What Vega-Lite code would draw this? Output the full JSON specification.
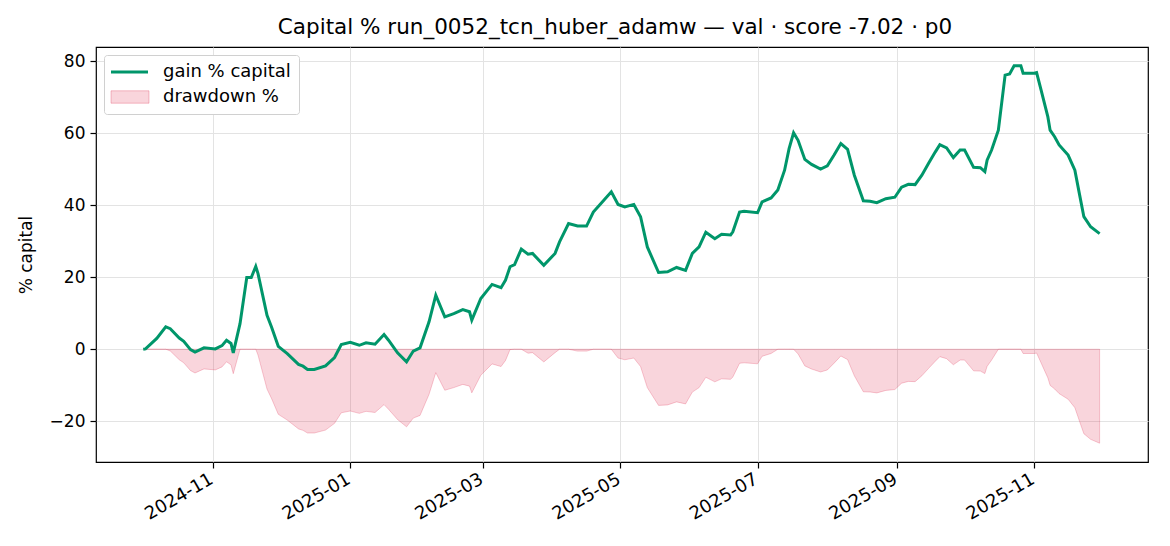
{
  "$schema": "https://vega.github.io/schema/vega-lite/v6.json",
  "width": 1052,
  "height": 415,
  "autosize": {"type": "none"},
  "padding": {"left": 96, "top": 47, "right": 22, "bottom": 84},
  "config": {
    "font": "DejaVu Sans",
    "view": {"stroke": "black", "strokeWidth": 1.2},
    "axis": {
      "domain": false,
      "gridColor": "#e3e3e3",
      "gridWidth": 1,
      "tickColor": "black",
      "tickSize": 6,
      "tickWidth": 1.2,
      "labelColor": "black",
      "labelFontSize": 17,
      "labelFont": "DejaVu Sans",
      "titleFont": "DejaVu Sans",
      "titleColor": "black",
      "titleFontWeight": "normal",
      "titleFontSize": 17,
      "labelPadding": 5
    },
    "legend": {
      "title": null,
      "orient": "top-left",
      "offset": 8,
      "padding": 8,
      "strokeColor": "#d0d0d0",
      "fillColor": "white",
      "cornerRadius": 3,
      "labelFontSize": 18,
      "labelFont": "DejaVu Sans",
      "labelColor": "black",
      "symbolSize": 400,
      "labelOffset": 33,
      "rowPadding": 7
    }
  },
  "title": {
    "text": "Capital % run_0052_tcn_huber_adamw — val · score -7.02 · p0",
    "fontSize": 21.5,
    "fontWeight": "normal",
    "font": "DejaVu Sans",
    "color": "black",
    "offset": 9,
    "dx": -7
  },
  "data": {
    "values": [
      {"date": "2024-10-01", "gain": 0, "dd": 0},
      {"date": "2024-10-02", "gain": 0.1, "dd": 0},
      {"date": "2024-10-07", "gain": 3, "dd": 0},
      {"date": "2024-10-11", "gain": 6.2, "dd": 0},
      {"date": "2024-10-13", "gain": 5.7, "dd": -0.47},
      {"date": "2024-10-17", "gain": 3.1, "dd": -2.92},
      {"date": "2024-10-19", "gain": 2.2, "dd": -3.77},
      {"date": "2024-10-22", "gain": -0.1, "dd": -5.93},
      {"date": "2024-10-24", "gain": -0.8, "dd": -6.59},
      {"date": "2024-10-28", "gain": 0.4, "dd": -5.46},
      {"date": "2024-11-02", "gain": 0.1, "dd": -5.74},
      {"date": "2024-11-05", "gain": 1, "dd": -4.9},
      {"date": "2024-11-07", "gain": 2.5, "dd": -3.48},
      {"date": "2024-11-09", "gain": 1.6, "dd": -4.33},
      {"date": "2024-11-10", "gain": -1, "dd": -6.78},
      {"date": "2024-11-13", "gain": 7.1, "dd": 0},
      {"date": "2024-11-16", "gain": 19.9, "dd": 0},
      {"date": "2024-11-18", "gain": 19.9, "dd": 0},
      {"date": "2024-11-20", "gain": 23, "dd": 0},
      {"date": "2024-11-21", "gain": 21, "dd": -1.63},
      {"date": "2024-11-25", "gain": 9.4, "dd": -11.06},
      {"date": "2024-11-27", "gain": 6.2, "dd": -13.66},
      {"date": "2024-11-30", "gain": 0.8, "dd": -18.05},
      {"date": "2024-12-04", "gain": -1.2, "dd": -19.67},
      {"date": "2024-12-09", "gain": -4.2, "dd": -22.11},
      {"date": "2024-12-11", "gain": -4.7, "dd": -22.52},
      {"date": "2024-12-13", "gain": -5.6, "dd": -23.25},
      {"date": "2024-12-16", "gain": -5.6, "dd": -23.25},
      {"date": "2024-12-21", "gain": -4.6, "dd": -22.44},
      {"date": "2024-12-25", "gain": -2.3, "dd": -20.57},
      {"date": "2024-12-28", "gain": 1.3, "dd": -17.64},
      {"date": "2025-01-01", "gain": 1.9, "dd": -17.15},
      {"date": "2025-01-05", "gain": 1.1, "dd": -17.8},
      {"date": "2025-01-08", "gain": 1.8, "dd": -17.24},
      {"date": "2025-01-12", "gain": 1.4, "dd": -17.56},
      {"date": "2025-01-16", "gain": 4.1, "dd": -15.37},
      {"date": "2025-01-18", "gain": 2.5, "dd": -16.67},
      {"date": "2025-01-22", "gain": -1, "dd": -19.51},
      {"date": "2025-01-26", "gain": -3.5, "dd": -21.54},
      {"date": "2025-01-29", "gain": -0.5, "dd": -19.11},
      {"date": "2025-02-01", "gain": 0.4, "dd": -18.37},
      {"date": "2025-02-05", "gain": 7.6, "dd": -12.52},
      {"date": "2025-02-08", "gain": 15, "dd": -6.5},
      {"date": "2025-02-12", "gain": 9, "dd": -11.38},
      {"date": "2025-02-16", "gain": 9.9, "dd": -10.65},
      {"date": "2025-02-20", "gain": 11, "dd": -9.76},
      {"date": "2025-02-23", "gain": 10.4, "dd": -10.24},
      {"date": "2025-02-24", "gain": 8.1, "dd": -12.11},
      {"date": "2025-02-28", "gain": 14.1, "dd": -7.24},
      {"date": "2025-03-05", "gain": 18, "dd": -4.07},
      {"date": "2025-03-09", "gain": 17.1, "dd": -4.8},
      {"date": "2025-03-11", "gain": 19.2, "dd": -3.09},
      {"date": "2025-03-13", "gain": 22.9, "dd": -0.08},
      {"date": "2025-03-15", "gain": 23.5, "dd": 0},
      {"date": "2025-03-18", "gain": 27.8, "dd": 0},
      {"date": "2025-03-21", "gain": 26.4, "dd": -1.1},
      {"date": "2025-03-23", "gain": 26.6, "dd": -0.94},
      {"date": "2025-03-28", "gain": 23.3, "dd": -3.52},
      {"date": "2025-04-02", "gain": 26.6, "dd": -0.94},
      {"date": "2025-04-04", "gain": 29.8, "dd": 0},
      {"date": "2025-04-08", "gain": 34.9, "dd": 0},
      {"date": "2025-04-12", "gain": 34.2, "dd": -0.52},
      {"date": "2025-04-16", "gain": 34.2, "dd": -0.52},
      {"date": "2025-04-19", "gain": 38.1, "dd": 0},
      {"date": "2025-04-22", "gain": 40.2, "dd": 0},
      {"date": "2025-04-27", "gain": 43.7, "dd": 0},
      {"date": "2025-04-30", "gain": 40.2, "dd": -2.44},
      {"date": "2025-05-03", "gain": 39.5, "dd": -2.92},
      {"date": "2025-05-07", "gain": 40.2, "dd": -2.44},
      {"date": "2025-05-10", "gain": 36.8, "dd": -4.8},
      {"date": "2025-05-13", "gain": 28.4, "dd": -10.65},
      {"date": "2025-05-18", "gain": 21.3, "dd": -15.59},
      {"date": "2025-05-22", "gain": 21.5, "dd": -15.45},
      {"date": "2025-05-26", "gain": 22.7, "dd": -14.61},
      {"date": "2025-05-30", "gain": 21.9, "dd": -15.17},
      {"date": "2025-06-02", "gain": 26.6, "dd": -11.9},
      {"date": "2025-06-05", "gain": 28.4, "dd": -10.65},
      {"date": "2025-06-08", "gain": 32.5, "dd": -7.79},
      {"date": "2025-06-12", "gain": 30.7, "dd": -9.05},
      {"date": "2025-06-15", "gain": 31.9, "dd": -8.21},
      {"date": "2025-06-19", "gain": 31.7, "dd": -8.35},
      {"date": "2025-06-20", "gain": 32.6, "dd": -7.72},
      {"date": "2025-06-23", "gain": 38.1, "dd": -3.9},
      {"date": "2025-06-25", "gain": 38.3, "dd": -3.76},
      {"date": "2025-07-01", "gain": 37.9, "dd": -4.04},
      {"date": "2025-07-03", "gain": 40.9, "dd": -1.95},
      {"date": "2025-07-07", "gain": 42, "dd": -1.18},
      {"date": "2025-07-10", "gain": 44.2, "dd": 0},
      {"date": "2025-07-13", "gain": 49.7, "dd": 0},
      {"date": "2025-07-15", "gain": 55.7, "dd": 0},
      {"date": "2025-07-17", "gain": 60.1, "dd": 0},
      {"date": "2025-07-19", "gain": 58, "dd": -1.31},
      {"date": "2025-07-22", "gain": 52.7, "dd": -4.62},
      {"date": "2025-07-25", "gain": 51.3, "dd": -5.5},
      {"date": "2025-07-29", "gain": 50, "dd": -6.31},
      {"date": "2025-08-01", "gain": 50.9, "dd": -5.75},
      {"date": "2025-08-04", "gain": 53.9, "dd": -3.87},
      {"date": "2025-08-07", "gain": 57.1, "dd": -1.87},
      {"date": "2025-08-10", "gain": 55.5, "dd": -2.87},
      {"date": "2025-08-13", "gain": 48.3, "dd": -7.37},
      {"date": "2025-08-17", "gain": 41.2, "dd": -11.81},
      {"date": "2025-08-20", "gain": 41.1, "dd": -11.87},
      {"date": "2025-08-23", "gain": 40.7, "dd": -12.12},
      {"date": "2025-08-27", "gain": 41.8, "dd": -11.43},
      {"date": "2025-08-31", "gain": 42.2, "dd": -11.18},
      {"date": "2025-09-03", "gain": 45, "dd": -9.43},
      {"date": "2025-09-06", "gain": 45.8, "dd": -8.93},
      {"date": "2025-09-09", "gain": 45.7, "dd": -8.99},
      {"date": "2025-09-12", "gain": 48.3, "dd": -7.37},
      {"date": "2025-09-15", "gain": 51.6, "dd": -5.31},
      {"date": "2025-09-18", "gain": 54.8, "dd": -3.31},
      {"date": "2025-09-20", "gain": 56.8, "dd": -2.06},
      {"date": "2025-09-23", "gain": 55.9, "dd": -2.62},
      {"date": "2025-09-26", "gain": 53.2, "dd": -4.31},
      {"date": "2025-09-29", "gain": 55.3, "dd": -3},
      {"date": "2025-10-01", "gain": 55.3, "dd": -3},
      {"date": "2025-10-05", "gain": 50.5, "dd": -6},
      {"date": "2025-10-08", "gain": 50.4, "dd": -6.06},
      {"date": "2025-10-10", "gain": 49.3, "dd": -6.75},
      {"date": "2025-10-11", "gain": 52.5, "dd": -4.75},
      {"date": "2025-10-13", "gain": 55.3, "dd": -3},
      {"date": "2025-10-16", "gain": 60.8, "dd": 0},
      {"date": "2025-10-19", "gain": 76.1, "dd": 0},
      {"date": "2025-10-21", "gain": 76.4, "dd": 0},
      {"date": "2025-10-23", "gain": 78.7, "dd": 0},
      {"date": "2025-10-26", "gain": 78.7, "dd": 0},
      {"date": "2025-10-27", "gain": 76.6, "dd": -1.18},
      {"date": "2025-11-01", "gain": 76.6, "dd": -1.18},
      {"date": "2025-11-02", "gain": 76.8, "dd": -1.06},
      {"date": "2025-11-04", "gain": 71.9, "dd": -3.81},
      {"date": "2025-11-07", "gain": 64.5, "dd": -7.95},
      {"date": "2025-11-08", "gain": 60.8, "dd": -10.02},
      {"date": "2025-11-10", "gain": 59, "dd": -11.02},
      {"date": "2025-11-12", "gain": 56.7, "dd": -12.31},
      {"date": "2025-11-16", "gain": 53.9, "dd": -13.88},
      {"date": "2025-11-19", "gain": 49.7, "dd": -16.23},
      {"date": "2025-11-21", "gain": 43.2, "dd": -19.87},
      {"date": "2025-11-23", "gain": 36.8, "dd": -23.45},
      {"date": "2025-11-26", "gain": 34, "dd": -25.01},
      {"date": "2025-11-30", "gain": 32.1, "dd": -26.08}
    ]
  },
  "encoding": {
    "x": {
      "field": "date",
      "type": "temporal",
      "scale": {
        "domain": [
          {"year": 2024, "month": 9, "date": 10},
          {"year": 2025, "month": 12, "date": 21, "hours": 12}
        ]
      },
      "axis": {
        "title": null,
        "format": "%Y-%m",
        "labelAngle": -30,
        "labelAlign": "right",
        "labelBaseline": "top",
        "labelPadding": 2,
        "labelOffset": -6,
        "labelFontSize": 18,
        "values": [
          {"year": 2024, "month": 11, "date": 1},
          {"year": 2025, "month": 1, "date": 1},
          {"year": 2025, "month": 3, "date": 1},
          {"year": 2025, "month": 5, "date": 1},
          {"year": 2025, "month": 7, "date": 1},
          {"year": 2025, "month": 9, "date": 1},
          {"year": 2025, "month": 11, "date": 1}
        ]
      }
    }
  },
  "layer": [
    {
      "mark": {"type": "area", "fillOpacity": 0.18, "stroke": "#dc143c", "strokeOpacity": 0.22, "strokeWidth": 1},
      "encoding": {
        "y": {
          "field": "dd",
          "type": "quantitative",
          "scale": {"domain": [-31.3, 83.9], "nice": false, "zero": false},
          "axis": {"title": "% capital", "values": [-20, 0, 20, 40, 60, 80], "titlePadding": 14}
        },
        "y2": {"datum": 0},
        "color": {
          "datum": "drawdown %",
          "type": "nominal",
          "scale": {"domain": ["gain % capital", "drawdown %"], "range": ["#00966a", "#dc143c"]},
          "legend": {
            "encode": {
              "symbols": {
                "update": {
                  "shape": {"signal": "datum.value === 'gain % capital' ? 'M-1,0H2.7' : 'M-1,-0.62H2.8V0.62H-1Z'"},
                  "strokeWidth": {"signal": "datum.value === 'gain % capital' ? 3 : 1"},
                  "opacity": {"value": 1},
                  "fillOpacity": {"signal": "datum.value === 'gain % capital' ? 0 : 0.18"},
                  "strokeOpacity": {"signal": "datum.value === 'gain % capital' ? 1 : 0.25"}
                }
              }
            }
          }
        }
      }
    },
    {
      "mark": {"type": "rule", "color": "#999999", "strokeWidth": 1},
      "encoding": {"y": {"datum": 0}}
    },
    {
      "mark": {"type": "line", "strokeWidth": 3},
      "encoding": {
        "y": {"field": "gain", "type": "quantitative"},
        "color": {
          "datum": "gain % capital",
          "type": "nominal",
          "legend": {
            "encode": {
              "symbols": {
                "update": {
                  "shape": {"signal": "datum.value === 'gain % capital' ? 'M-1,0H2.7' : 'M-1,-0.62H2.8V0.62H-1Z'"},
                  "strokeWidth": {"signal": "datum.value === 'gain % capital' ? 3 : 1"},
                  "opacity": {"value": 1},
                  "fillOpacity": {"signal": "datum.value === 'gain % capital' ? 0 : 0.18"},
                  "strokeOpacity": {"signal": "datum.value === 'gain % capital' ? 1 : 0.25"}
                }
              }
            }
          }
        }
      }
    }
  ]
}
